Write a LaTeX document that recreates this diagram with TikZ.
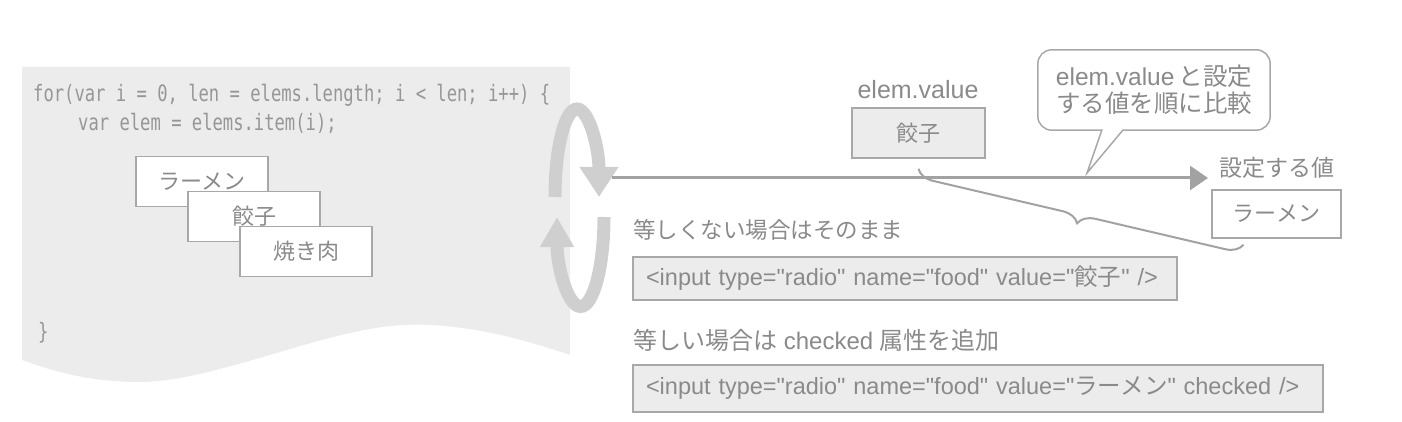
\documentclass[tikz,border=0pt]{standalone}
\usepackage{fontspec}
\setmainfont{Liberation Sans}
\newfontfamily\cjk{Noto Sans CJK JP}
\newfontfamily\codefont[FakeStretch=0.76]{DejaVu Sans Mono}
\usetikzlibrary{arrows.meta, decorations.pathreplacing, calc}
\definecolor{panelgray}{HTML}{ECECEC}
\definecolor{codegray}{HTML}{969696}
\definecolor{txtgray}{HTML}{8A8A8A}
\definecolor{framegray}{HTML}{A8A8A8}
\definecolor{cyclegray}{HTML}{CFCFCF}
\definecolor{flowgray}{HTML}{A2A2A2}
\newcommand\dq{\textquotedbl}
\tikzset{
  codeline/.style={anchor=west, inner sep=0pt, text=codegray,
    font=\codefont\fontsize{22.6}{26}\selectfont},
  card/.style={rectangle, draw=framegray, fill=white, line width=1.5pt,
    minimum width=132pt, minimum height=50pt, text=txtgray,
    font=\cjk\fontsize{22}{26}\selectfont},
  caption/.style={inner sep=0pt, text=txtgray, font=\fontsize{24}{28}\selectfont},
  valbox/.style={rectangle, draw=framegray, line width=1.5pt, text=txtgray,
    font=\cjk\fontsize{22}{26}\selectfont},
  tagbox/.style={rectangle, draw=framegray, fill=panelgray, line width=2pt,
    anchor=west, inner xsep=13pt, align=left, text=txtgray,
    font=\fontsize{23.5}{28}\selectfont},
  cyclearrow/.style={draw=cyclegray, line width=13pt},
  flow/.style={draw=flowgray, line width=3pt, -{Triangle[width=24pt,length=18pt]}}
}

\begin{document}
\begin{tikzpicture}[x=1pt, y=-1pt,
    calloutline/.style={draw=framegray, fill=white, line width=1.5pt},
    bracket/.style={draw=flowgray, line width=2pt, decorate,
      decoration={brace, amplitude=17pt, mirror}}
    ]
    \useasboundingbox (0,0) rectangle (1402,422);

    % Code panel
    \fill[panelgray] (22,67) -- (570,67) -- (570,355)
      .. controls (520,338) and (460,322) .. (402,325)
      .. controls (320,330) and (210,384) .. (134,382)
      .. controls (80,381) and (45,368) .. (22,360) -- cycle;
    \node[codeline] (code1) at (33,95) {for(var i = 0, len = elems.length; i < len; i++) \{};
    \node[codeline] (code2) at (78,123) {var elem = elems.item(i);};
    \node[codeline] (code3) at (38,333) {\}};

    % Cards
    \node[card] (c1) at (202,181.5) {ラーメン};
    \node[card] (c2) at (254,216.5) {餃子};
    \node[card] (c3) at (306,251.5) {焼き肉};

    % Loop arrows
    \draw[cyclearrow, -{Triangle[width=37pt,length=30pt]}]
      (555,197) arc[start angle=180, end angle=360, x radius=22, y radius=88];
    \draw[cyclearrow, -{Triangle[width=32pt,length=30pt]}]
      (604,217) arc[start angle=0, end angle=180, x radius=23.5, y radius=89.5];

    % Compared values
    \node[caption, font=\fontsize{25}{28}\selectfont] (evlbl) at (918,90) {elem.value};
    \node[valbox, fill=panelgray, minimum width=133pt, minimum height=50pt] (evbox) at (918.5,133) {餃子};
    \node[caption, font=\cjk\fontsize{23}{28}\selectfont] (setlbl) at (1277,168) {設定する値};
    \node[valbox, fill=white, minimum width=129pt, minimum height=48pt] (setbox) at (1276.5,214) {ラーメン};

    % Callout
    \node[minimum width=232pt, minimum height=80pt] (cmp) at (1154,90) {};
    \coordinate (cmptip) at (1087,173);
    \draw[calloutline] ($(cmp.south west)+(64,0)$) [rounded corners=14pt]
      -- (cmp.south west) -- (cmp.north west) -- (cmp.north east)
      -- (cmp.south east) [sharp corners] -- ($(cmp.south west)+(85,0)$)
      -- (cmptip) -- cycle;
    \node[caption, align=center, font=\fontsize{24.5}{27}\selectfont] (cmptext) at (cmp.center)
      {elem.value\,{\cjk と設定}\\{\cjk する値を順に比較}};

    % Compare line
    \coordinate (loopout) at (612,178);
    \coordinate (cmpend) at (1208,178);
    \draw[flow] (loopout) -- (cmpend);
    \draw[bracket] ($(evbox.south)+(0,10)$) -- ($(setbox.south)+(-33,6)$);

    % Results
    \node[caption, anchor=west, font=\cjk\fontsize{22.5}{28}\selectfont] (ne) at (633,230) {等しくない場合はそのまま};
    \node[tagbox, text width=518pt, minimum height=43pt] (netag) at (632,278.5)
      {<input type=\dq radio\dq{} name=\dq food\dq{} value=\dq{\cjk 餃子}\dq{} />};
    \node[caption, anchor=west] (eq) at (633,340) {{\cjk 等しい場合は}\;checked\;{\cjk 属性を追加}};
    \node[tagbox, text width=664pt, minimum height=47pt] (eqtag) at (632,388.5)
      {<input type=\dq radio\dq{} name=\dq food\dq{} value=\dq{\cjk ラーメン}\dq{} checked />};

\end{tikzpicture}
\end{document}
